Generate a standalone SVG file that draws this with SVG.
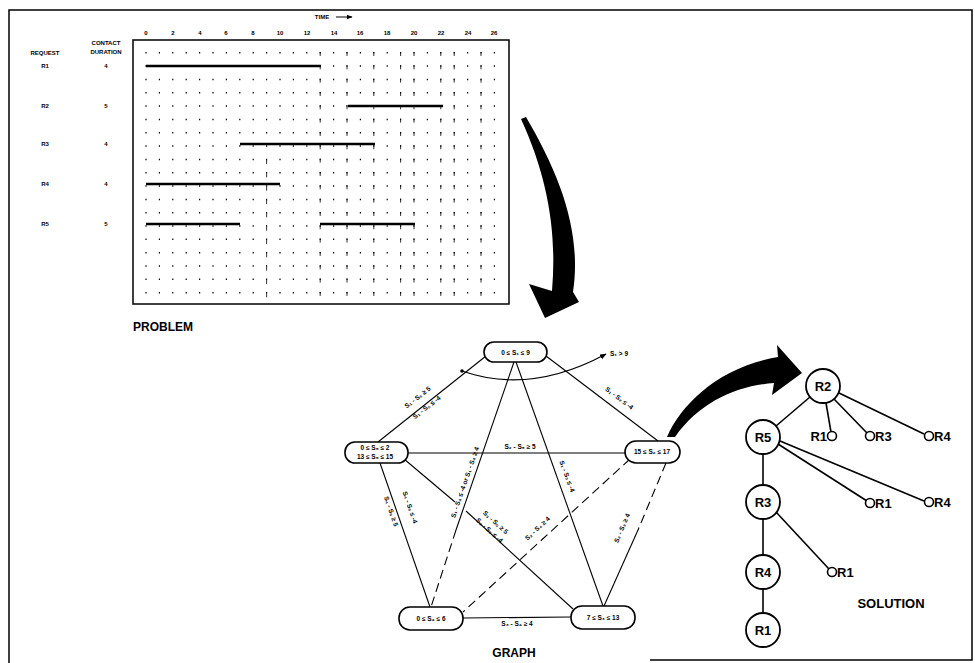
<svg xmlns="http://www.w3.org/2000/svg" width="975" height="663" viewBox="0 0 975 663">
<defs>
<style>
text{font-family:"Liberation Sans","DejaVu Sans",sans-serif;font-weight:bold;fill:#000}
.sm{font-size:6px}
.lb{font-size:6.5px}
.tl{font-size:12px}
.tr{font-size:13px;text-anchor:middle}
.c{text-anchor:middle}
.e{stroke:#000;stroke-width:1.1;fill:none}
.d{stroke:#000;stroke-width:1.1;fill:none;stroke-dasharray:9 5}
.nd{fill:#fff;stroke:#000;stroke-width:1.6}
.bar{stroke:#000;stroke-width:2.5}
.col{stroke:#000;stroke-width:1.2;stroke-dasharray:1.5 11.83}
.col2{stroke:#000;stroke-width:0.8;stroke-dasharray:4 9.33}
.big{fill:#000;stroke:none}
.tc{fill:#fff;stroke:#000;stroke-width:1.8}
.sc{fill:#fff;stroke:#000;stroke-width:1.6}
.te{stroke:#000;stroke-width:1.6}
</style>
<marker id="ah" viewBox="0 0 10 10" refX="9" refY="5" markerWidth="6" markerHeight="6" orient="auto"><path d="M0,1 L10,5 L0,9 Z" fill="#000"/></marker>
</defs>

<!-- frame -->
<g id="frame" stroke="#000" stroke-width="1.5" fill="none">
<path d="M9,663 L9,10 L972,10 L972,660 L650,660"/>
</g>

<!-- PROBLEM table -->
<g id="problem">
<text class="sm c" x="322" y="19">TIME</text>
<path d="M336,17 L352,17" stroke="#000" stroke-width="1" marker-end="url(#ah)"/>
<g class="sm c">
<text x="146" y="35">0</text><text x="173" y="35">2</text><text x="200" y="35">4</text><text x="226" y="35">6</text><text x="253" y="35">8</text><text x="280" y="35">10</text><text x="307" y="35">12</text><text x="334" y="35">14</text><text x="360" y="35">16</text><text x="387" y="35">18</text><text x="414" y="35">20</text><text x="441" y="35">22</text><text x="468" y="35">24</text><text x="494" y="35">26</text>
</g>
<text class="sm c" x="106" y="45">CONTACT</text>
<text class="sm c" x="106" y="54">DURATION</text>
<text class="sm c" x="45" y="55">REQUEST</text>
<g class="sm c">
<text x="45" y="68">R1</text><text x="106" y="68">4</text>
<text x="45" y="108">R2</text><text x="106" y="108">5</text>
<text x="45" y="146">R3</text><text x="106" y="146">4</text>
<text x="45" y="186">R4</text><text x="106" y="186">4</text>
<text x="45" y="226">R5</text><text x="106" y="226">5</text>
</g>
<rect x="133" y="40" width="376" height="264" fill="none" stroke="#000" stroke-width="1.5"/>
<g>
<line class="col" x1="146" y1="52" x2="146" y2="300"/>
<line class="col" x1="159.4" y1="52" x2="159.4" y2="300"/>
<line class="col" x1="172.8" y1="52" x2="172.8" y2="300"/>
<line class="col" x1="186.2" y1="52" x2="186.2" y2="300"/>
<line class="col" x1="199.6" y1="52" x2="199.6" y2="300"/>
<line class="col" x1="213" y1="52" x2="213" y2="300"/>
<line class="col" x1="226.4" y1="52" x2="226.4" y2="300"/>
<line class="col" x1="239.8" y1="52" x2="239.8" y2="300"/>
<line class="col" x1="253.2" y1="52" x2="253.2" y2="300"/>
<line class="col" x1="266.6" y1="52" x2="266.6" y2="300"/>
<line class="col" x1="280" y1="52" x2="280" y2="300"/>
<line class="col" x1="293.4" y1="52" x2="293.4" y2="300"/>
<line class="col" x1="306.8" y1="52" x2="306.8" y2="300"/>
<line class="col" x1="320.2" y1="52" x2="320.2" y2="300"/>
<line class="col" x1="333.6" y1="52" x2="333.6" y2="300"/>
<line class="col" x1="347" y1="52" x2="347" y2="300"/>
<line class="col" x1="360.4" y1="52" x2="360.4" y2="300"/>
<line class="col" x1="373.8" y1="52" x2="373.8" y2="300"/>
<line class="col" x1="387.2" y1="52" x2="387.2" y2="300"/>
<line class="col" x1="400.6" y1="52" x2="400.6" y2="300"/>
<line class="col" x1="414" y1="52" x2="414" y2="300"/>
<line class="col" x1="427.4" y1="52" x2="427.4" y2="300"/>
<line class="col" x1="440.8" y1="52" x2="440.8" y2="300"/>
<line class="col" x1="454.2" y1="52" x2="454.2" y2="300"/>
<line class="col" x1="467.6" y1="52" x2="467.6" y2="300"/>
<line class="col" x1="481" y1="52" x2="481" y2="300"/>
<line class="col" x1="494.4" y1="52" x2="494.4" y2="300"/>
<line class="col2" x1="266.6" y1="160" x2="266.6" y2="300"/>
<line class="col2" x1="320.2" y1="52" x2="320.2" y2="300"/>
<line class="col2" x1="347" y1="52" x2="347" y2="300"/>
<line class="col2" x1="373.8" y1="52" x2="373.8" y2="300"/>
<line class="col2" x1="400.6" y1="52" x2="400.6" y2="300"/>
<line class="col2" x1="414" y1="52" x2="414" y2="300"/>
<line class="col2" x1="440.8" y1="52" x2="440.8" y2="300"/>
<line class="col2" x1="454.2" y1="52" x2="454.2" y2="300"/>
<line class="col2" x1="481" y1="52" x2="481" y2="300"/>
</g>
<line class="bar" x1="146" y1="66" x2="321" y2="66"/>
<line class="bar" x1="348" y1="106" x2="443" y2="106"/>
<line class="bar" x1="240" y1="144" x2="375" y2="144"/>
<line class="bar" x1="146" y1="184" x2="280" y2="184"/>
<line class="bar" x1="146" y1="224" x2="240" y2="224"/>
<line class="bar" x1="320" y1="224" x2="415" y2="224"/>
<text class="tl" x="133" y="331">PROBLEM</text>
</g>

<!-- big arrows -->
<g id="arrows">
<path class="big" d="M521,119 L526,117 C560,175 582,232 573,292 L579,302 L545,318 L529,284 L552,291 C557,232 548,178 521,119 Z"/>
<path class="big" d="M667,437 C682,402 722,366 778,357 L777,345 L802,373 L772,395 L774,383 C736,386 700,402 675,437 Z"/>
</g>

<!-- graph connectors -->
<g id="connectors">
<line class="e" x1="486" y1="356" x2="378" y2="442"/>
<line class="e" x1="546" y1="356" x2="658" y2="441"/>
<line class="e" x1="408" y1="453" x2="625" y2="453"/>
<line class="e" x1="514" y1="362" x2="456" y2="530"/>
<line class="d" x1="456" y1="530" x2="431" y2="607"/>
<line class="e" x1="516" y1="362" x2="603" y2="606"/>
<line class="e" x1="380" y1="463" x2="430" y2="607"/>
<line class="e" x1="404" y1="459" x2="455" y2="502"/>
<line class="e" x1="466" y1="511" x2="573" y2="609"/>
<line class="d" x1="630" y1="459" x2="463" y2="612"/>
<line class="d" x1="666" y1="463" x2="638" y2="530"/>
<line class="e" x1="638" y1="530" x2="604" y2="606"/>
<line class="e" x1="463" y1="618" x2="571" y2="617"/>
<path class="e" d="M462,371 Q530,395 606,354" marker-end="url(#ah)"/>
<circle cx="462" cy="371" r="1.8" fill="#000"/>
<text class="lb" x="610" y="356">S₁ &gt; 9</text>
<!-- edge labels -->
<text class="lb c" transform="translate(419,399) rotate(-38)">S₁ - S₅ ≥ 5</text>
<text class="lb c" transform="translate(428,409) rotate(-38)">S₁ - S₅ ≤ -4</text>
<text class="lb c" transform="translate(618,400) rotate(37)">S₁ - S₂ ≤ -4</text>
<text class="lb c" x="520" y="449">S₂ - S₅ ≥ 5</text>
<text class="lb c" transform="translate(467,483) rotate(-71)">S₁ - S₄ ≤ -4 or S₁ - S₄ ≥ 4</text>
<text class="lb c" transform="translate(565,477) rotate(70)">S₁ - S₃ ≤ -4</text>
<text class="lb c" transform="translate(389,512) rotate(71)">S₄ - S₅ ≥ 5</text>
<text class="lb c" transform="translate(408,508) rotate(71)">S₄ - S₅ ≤ -4</text>
<text class="lb c" transform="translate(494,524) rotate(42)">S₃ - S₅ ≥ 5</text>
<text class="lb c" transform="translate(488,532) rotate(42)">S₃ - S₅ ≤ -4</text>
<text class="lb c" transform="translate(539,530) rotate(-43)">S₂ - S₄ ≥ 4</text>
<text class="lb c" transform="translate(624,529) rotate(-67)">S₂ - S₃ ≥ 4</text>
<text class="lb c" x="517" y="626">S₃ - S₄ ≥ 4</text>
</g>

<!-- graph nodes -->
<g id="n-s1"><rect class="nd" x="484" y="342" width="63" height="20" rx="10"/><text class="lb c" x="515.5" y="354.5">0 ≤ S₁ ≤ 9</text></g>
<g id="n-s5"><rect class="nd" x="345" y="442" width="63" height="21" rx="10"/><text class="lb c" x="375" y="450">0 ≤ S₅ ≤ 2</text><text class="lb c" x="375" y="459">13 ≤ S₅ ≤ 15</text></g>
<g id="n-s2"><rect class="nd" x="625" y="441" width="55" height="22" rx="11"/><text class="lb c" x="652" y="454">15 ≤ S₂ ≤ 17</text></g>
<g id="n-s4"><rect class="nd" x="399" y="607" width="64" height="23" rx="11"/><text class="lb c" x="431" y="621">0 ≤ S₄ ≤ 6</text></g>
<g id="n-s3"><rect class="nd" x="571" y="606" width="64" height="23" rx="11"/><text class="lb c" x="603" y="620">7 ≤ S₃ ≤ 13</text></g>
<text class="tl c" x="514" y="657">GRAPH</text>

<!-- solution tree edges -->
<g id="tree-edges">
<line class="te" x1="810" y1="397" x2="776" y2="426"/>
<line class="te" x1="826" y1="403" x2="831" y2="432"/>
<line class="te" x1="834" y1="399" x2="867" y2="433"/>
<line class="te" x1="839" y1="393" x2="924" y2="434"/>
<line class="te" x1="763" y1="454" x2="763" y2="485"/>
<line class="te" x1="778" y1="444" x2="867" y2="501"/>
<line class="te" x1="780" y1="441" x2="924" y2="501"/>
<line class="te" x1="763" y1="519" x2="763" y2="555"/>
<line class="te" x1="776" y1="512" x2="829" y2="569"/>
<line class="te" x1="763" y1="589" x2="763" y2="613"/>
</g>

<!-- solution tree nodes -->
<g id="t-r2"><circle class="tc" cx="823" cy="386" r="17"/><text class="tr" x="823" y="391">R2</text></g>
<g id="t-r5"><circle class="tc" cx="763" cy="437" r="17"/><text class="tr" x="763" y="442">R5</text></g>
<g id="t-r3"><circle class="tc" cx="763" cy="502" r="17"/><text class="tr" x="763" y="507">R3</text></g>
<g id="t-r4"><circle class="tc" cx="763" cy="572" r="17"/><text class="tr" x="763" y="577">R4</text></g>
<g id="t-r1"><circle class="tc" cx="763" cy="630" r="17"/><text class="tr" x="763" y="635">R1</text></g>
<g id="t-a"><circle class="sc" cx="832" cy="436" r="4.5"/><text class="tr" style="text-anchor:end" x="827" y="441">R1</text></g>
<g id="t-b"><circle class="sc" cx="870" cy="436" r="4.5"/><text class="tr" style="text-anchor:start" x="875" y="441">R3</text></g>
<g id="t-c"><circle class="sc" cx="929" cy="436" r="4.5"/><text class="tr" style="text-anchor:start" x="934" y="441">R4</text></g>
<g id="t-d"><circle class="sc" cx="870" cy="503" r="4.5"/><text class="tr" style="text-anchor:start" x="875" y="508">R1</text></g>
<g id="t-e"><circle class="sc" cx="929" cy="502" r="4.5"/><text class="tr" style="text-anchor:start" x="934" y="507">R4</text></g>
<g id="t-f"><circle class="sc" cx="832" cy="572" r="4.5"/><text class="tr" style="text-anchor:start" x="837" y="577">R1</text></g>
<text class="tr" x="891" y="608">SOLUTION</text>
</svg>
